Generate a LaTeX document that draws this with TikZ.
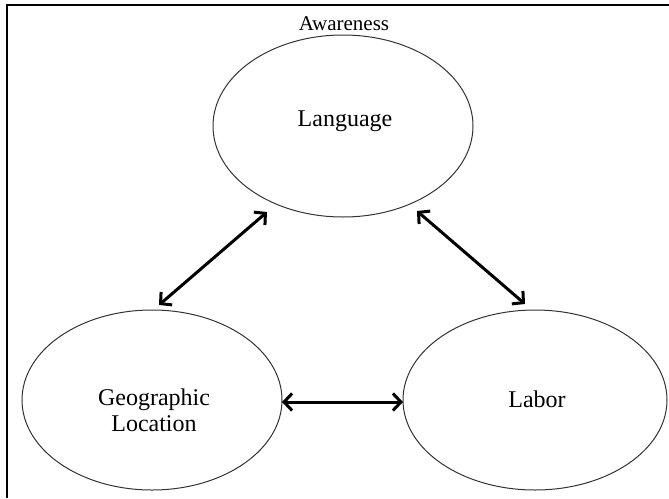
\documentclass[tikz,border=0pt]{standalone}
\usepackage{fontspec}
\setmainfont{Liberation Serif}
\usetikzlibrary{arrows.meta,shapes.geometric}
\begin{document}
\begin{tikzpicture}[x=1pt,y=-1pt,
  oval/.style={draw=black!80,line width=1pt,ellipse,inner sep=0pt},
  lbl/.style={font=\fontsize{24}{26}\selectfont,inner sep=0pt,align=center},
  biarrow/.style={line width=3pt,{Straight Barb[length=8pt,width=17pt]}-{Straight Barb[length=8pt,width=17pt]}},
  frame/.style={line width=2pt,black}]
\useasboundingbox (0,0) rectangle (669,498);
\draw[frame] (7,498) -- (7,5) -- (669,5);
\node[font=\fontsize{21}{23}\selectfont,anchor=base,inner sep=0pt] (aware) at (344,30) {Awareness};
\node[oval,minimum width=260pt,minimum height=182pt] (lang) at (343,126) {};
\node[oval,minimum width=260pt,minimum height=180pt] (geo) at (152,400) {};
\node[oval,minimum width=264pt,minimum height=180pt] (labor) at (535,400) {};
\node[lbl,anchor=base] (langtxt) at ([xshift=2pt]lang.center) {Language};
\node[lbl,anchor=center] (geotxt) at ([xshift=2pt,yshift=-10pt]geo.center) {Geographic\\Location};
\node[lbl,anchor=base] (labortxt) at ([xshift=2pt,yshift=-7pt]labor.center) {Labor};
\draw[biarrow] ([shift={(-76,86)}]lang.center) -- ([shift={(7,-95)}]geo.center);
\draw[biarrow] ([shift={(74,85)}]lang.center) -- ([shift={(-10,-96)}]labor.center);
\draw[biarrow] ([shift={(130,2)}]geo.center) -- ([shift={(-132,2)}]labor.center);
\end{tikzpicture}
\end{document}
